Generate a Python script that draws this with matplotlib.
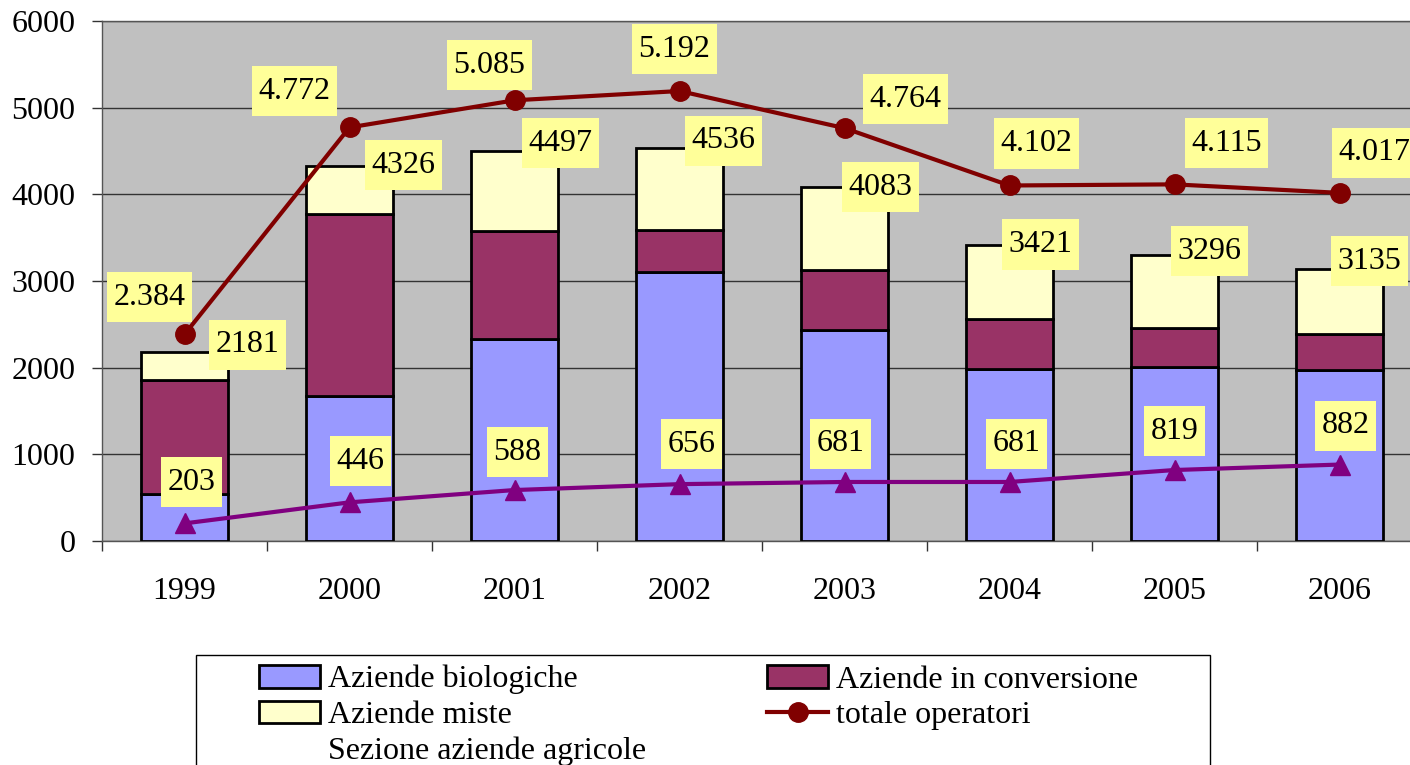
import matplotlib

matplotlib.use("Agg")
import matplotlib.pyplot as plt
import numpy as np
from matplotlib.lines import Line2D
from matplotlib.patches import Patch, Rectangle
from matplotlib.path import Path

plt.rcParams["font.family"] = ["Liberation Serif", "DejaVu Serif"]

years = ["1999", "2000", "2001", "2002", "2003", "2004", "2005", "2006"]
biologiche = [540, 1677, 2331, 3108, 2435, 1985, 2004, 1973]
conversione = [1318, 2096, 1250, 480, 692, 577, 450, 415]
totale_aziende = [2181, 4326, 4497, 4536, 4083, 3421, 3296, 3135]
totale_operatori = [2384, 4772, 5085, 5192, 4764, 4102, 4115, 4017]
sezione_agricole = [203, 446, 588, 656, 681, 681, 819, 882]

miste = [t - b - c for t, b, c in zip(totale_aziende, biologiche, conversione)]

# label offsets in pixels (x right, y up), as placed in the original
bar_label_px = [(63, 7), (54, 1), (46, 8), (44, 7), (36, 0), (31, 0), (35, 4), (30, 8)]
oper_label_px = [(-35, 37), (-55, 36), (-25, 35), (-5, 42), (61, 29), (27, 42), (52, 41), (35, 40)]
sez_label_px = [(7, 41), (11, 41), (3, 38), (12, 40), (-4, 38), (7, 38), (0, 39), (6, 39)]

C_BIO = "#9999FF"
C_CONV = "#993366"
C_MISTE = "#FFFFCC"
C_OPER = "#800000"
C_SEZ = "#800080"
C_LABEL = "#FFFF99"
FS = 23

W, H = 1410, 765
fig = plt.figure(figsize=(W / 100, H / 100), dpi=100)
ax = fig.add_axes([102 / W, (H - 541) / H, 1320 / W, 520 / H])
ax.set_facecolor("#C0C0C0")

x = np.arange(len(years))
bar_kw = dict(width=0.53, edgecolor="black", linewidth=2, zorder=3)
ax.bar(x, biologiche, color=C_BIO, **bar_kw)
ax.bar(x, conversione, bottom=biologiche, color=C_CONV, **bar_kw)
ax.bar(x, miste, bottom=np.add(biologiche, conversione), color=C_MISTE, **bar_kw)

ax.plot(x, totale_operatori, color=C_OPER, lw=3, marker="o", ms=14, zorder=5)
ax.plot(x, sezione_agricole, color=C_SEZ, lw=3, marker="^", ms=14, zorder=5)


def label_box(x0, y0, width, height, mutation_size):
    # excel-like data label: narrow side padding, taller top/bottom padding
    px, py = 0.2 * mutation_size, 0.33 * mutation_size
    x0, y0 = x0 - px, y0 - py
    x1, y1 = x0 + width + 2 * px, y0 + height + 2 * py
    return Path([(x0, y0), (x1, y0), (x1, y1), (x0, y1), (x0, y0)], closed=True)


box = dict(boxstyle=label_box, facecolor=C_LABEL, edgecolor="none")


def put_labels(values, texts, offsets):
    for xi, v, t, (dx, dy) in zip(x, values, texts, offsets):
        ax.annotate(t, (xi, v), xytext=(dx * 0.72, dy * 0.72), textcoords="offset points",
                    ha="center", va="center", fontsize=FS, bbox=box, zorder=7)


put_labels(totale_aziende, [str(v) for v in totale_aziende], bar_label_px)
put_labels(totale_operatori, [f"{v:,}".replace(",", ".") for v in totale_operatori], oper_label_px)
put_labels(sezione_agricole, [str(v) for v in sezione_agricole], sez_label_px)

ax.set_xlim(-0.5, len(years) - 0.5)
ax.set_ylim(0, 6000)
ax.set_yticks(range(0, 6001, 1000))
ax.yaxis.grid(True, color="#333333", lw=1)
ax.set_axisbelow(True)
ax.tick_params(axis="y", direction="out", length=7, width=1, pad=12, labelsize=FS, color="#333333")
ax.set_xticks(x)
ax.set_xticklabels(years)
ax.set_xticks(np.arange(-0.5, len(years)), minor=True)
ax.tick_params(axis="x", which="major", length=0, pad=26, labelsize=FS)
ax.tick_params(axis="x", which="minor", direction="out", length=7, width=1, color="#333333")
for side in ax.spines.values():
    side.set_color("#555555")
    side.set_linewidth(1)

handles = [
    Patch(facecolor=C_BIO, edgecolor="black", lw=2),
    Patch(facecolor=C_MISTE, edgecolor="black", lw=2),
    Line2D([], [], color="none"),
    Patch(facecolor=C_CONV, edgecolor="black", lw=2),
    Line2D([], [], color=C_OPER, lw=3, marker="o", ms=14),
]
labels = ["Aziende biologiche", "Aziende miste", "Sezione aziende agricole",
          "Aziende in conversione", "totale operatori"]

fig.patches.append(Rectangle((196 / W, -0.1), 1014 / W, 0.1 + (H - 655) / H,
                             transform=fig.transFigure, facecolor="white",
                             edgecolor="black", lw=1))
fig.legend(handles, labels, loc="upper left", bbox_to_anchor=(259 / W, (H - 665) / H),
           ncol=2, frameon=False, fontsize=FS, handlelength=1.9, handleheight=0.7,
           handletextpad=0.25, columnspacing=3.8, labelspacing=0.2, borderpad=0,
           borderaxespad=0)

fig.savefig("out.png", dpi=100)
